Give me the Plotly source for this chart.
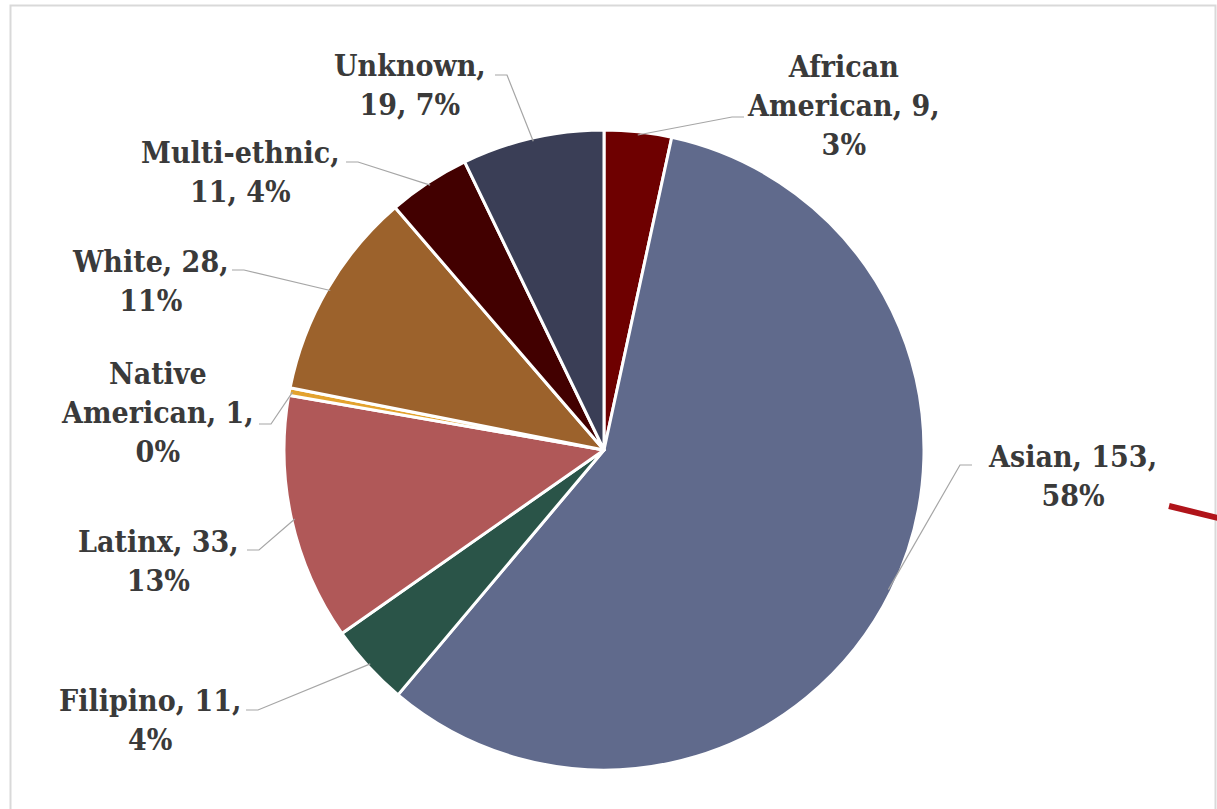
import math
import plotly.graph_objects as go

# ---- data ----
categories = ["African American", "Asian", "Filipino", "Latinx",
              "Native American", "White", "Multi-ethnic", "Unknown"]
counts = [9, 153, 11, 33, 1, 28, 11, 19]
percent_labels = ["3%", "58%", "4%", "13%", "0%", "11%", "4%", "7%"]
label_templates = [
    "African<br>American, {n},<br>{p}",
    "Asian, {n},<br>{p}",
    "Filipino, {n},<br>{p}",
    "Latinx, {n},<br>{p}",
    "Native<br>American, {n},<br>{p}",
    "White, {n},<br>{p}",
    "Multi-ethnic,<br>{n}, {p}",
    "Unknown,<br>{n}, {p}",
]
colors = ["#6E0000", "#606A8C", "#2A5448", "#B05858",
          "#E3A22E", "#9C622C", "#420000", "#3A3E56"]

# ---- layout / placement (pixels in the page) ----
W, H = 1217, 809
CX, CY, R = 604, 450, 320
label_centers = [(843, 106), (1072, 476), (150, 720), (158, 561),
                 (157, 413), (150, 281), (240, 172), (410, 85)]
leader_starts = [(744, 117), (972, 465), (246, 710), (247, 550),
                 (259, 424), (232, 270), (346, 162), (495, 75)]
stub = 12

FONT = "DejaVu Serif Condensed, DejaVu Serif, serif"
TXT = "#3A3A3A"


def px(x):
    return x / W


def py(y):
    return 1 - y / H


fig = go.Figure(go.Pie(
    labels=categories, values=counts, sort=False, direction="clockwise",
    rotation=0, textinfo="none", hoverinfo="label+value+percent",
    marker=dict(colors=colors, line=dict(color="white", width=3)),
    domain=dict(x=[px(CX - R), px(CX + R)], y=[py(CY + R), py(CY - R)]),
    showlegend=False,
))

total = sum(counts)
cum = 0
shapes = []
annotations = []
for i, (cat, n) in enumerate(zip(categories, counts)):
    mid = (cum + n / 2) / total * 2 * math.pi
    cum += n
    ax_ = CX + R * 0.99 * math.sin(mid)
    ay_ = CY - R * 0.99 * math.cos(mid)
    sx, sy = leader_starts[i]
    d = stub if ax_ > sx else -stub
    path = "M {:.5f},{:.5f} L {:.5f},{:.5f} L {:.5f},{:.5f}".format(
        px(sx), py(sy), px(sx + d), py(sy), px(ax_), py(ay_))
    shapes.append(dict(type="path", xref="paper", yref="paper", path=path,
                       line=dict(color="#A6A6A6", width=1.2)))
    cx, cy = label_centers[i]
    annotations.append(dict(
        x=px(cx), y=py(cy), xref="paper", yref="paper", showarrow=False,
        xanchor="center", yanchor="middle", align="center",
        text="<b>" + label_templates[i].format(n=n, p=percent_labels[i]) + "</b>",
        font=dict(family=FONT, size=30, color=TXT)))

# chart frame
shapes.append(dict(type="rect", xref="paper", yref="paper",
                   x0=px(10.5), x1=px(1215.5), y0=py(820), y1=py(5.5),
                   line=dict(color="#D9D9D9", width=2), fillcolor="rgba(0,0,0,0)"))
# red stroke at right edge
shapes.append(dict(type="line", xref="paper", yref="paper",
                   x0=px(1169), y0=py(506), x1=px(1222), y1=py(519),
                   line=dict(color="#B0141A", width=6)))

fig.update_layout(
    width=W, height=H, margin=dict(l=0, r=0, t=0, b=0),
    paper_bgcolor="white", plot_bgcolor="white",
    shapes=shapes, annotations=annotations,
)

fig.write_html(
    "out.html",
    config={"displayModeBar": False},
    post_script="document.body.style.margin='0';document.body.style.overflow='hidden';",
)
